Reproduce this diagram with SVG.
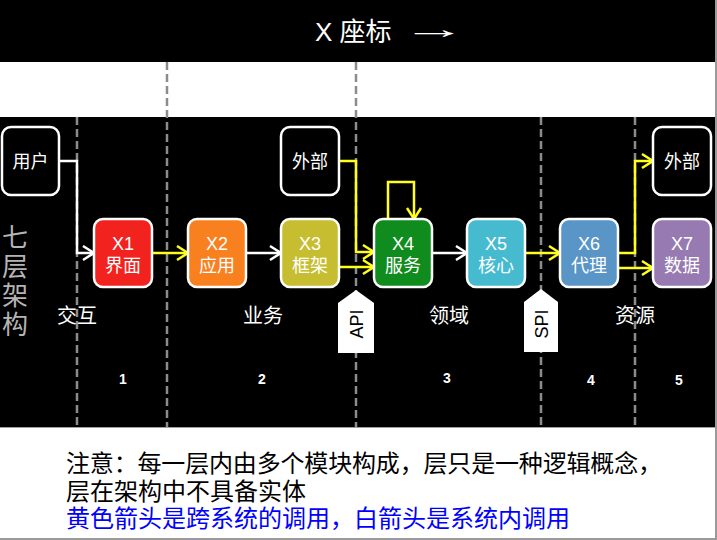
<svg xmlns="http://www.w3.org/2000/svg" width="717" height="540" viewBox="0 0 717 540">
<defs>
<style>
text{font-family:"Liberation Sans","Noto Sans CJK SC",sans-serif;}
.box{stroke:#ffffff;stroke-width:2.5;}
.nt{fill:#ffffff;font-size:18px;text-anchor:middle;}
.lay{fill:#ffffff;font-size:20px;text-anchor:middle;}
.num{fill:#ffffff;font-size:14px;font-weight:bold;text-anchor:middle;}
.dash{stroke:#8c8c8c;stroke-width:2.5;stroke-dasharray:8 4;fill:none;}
.cw{stroke:#ffffff;stroke-width:2.5;fill:none;marker-end:url(#aw);}
.cy{stroke:#ffff1a;stroke-width:2.5;fill:none;marker-end:url(#ay);}
.tag{fill:#ffffff;}
.tagt{fill:#000000;font-size:18px;text-anchor:middle;}
.note{font-size:24px;fill:#000000;}
</style>
<marker id="aw" viewBox="-2 -2 16 18" markerUnits="userSpaceOnUse" markerWidth="16" markerHeight="18" refX="11" refY="7" orient="auto" overflow="visible">
<path d="M0,0 L11,7 L0,14" fill="none" stroke="#ffffff" stroke-width="2.5"/>
</marker>
<marker id="ay" viewBox="-2 -2 16 18" markerUnits="userSpaceOnUse" markerWidth="16" markerHeight="18" refX="11" refY="7" orient="auto" overflow="visible">
<path d="M0,0 L11,7 L0,14" fill="none" stroke="#ffff1a" stroke-width="2.5"/>
</marker>
</defs>

<rect x="0" y="0" width="717" height="540" fill="#ffffff"/>
<rect x="0" y="0" width="717" height="62" fill="#000000"/>
<rect x="0" y="117" width="717" height="310" fill="#000000"/>
<line x1="0" y1="427.5" x2="717" y2="427.5" stroke="#a0a0a0" stroke-width="1"/>
<line x1="716" y1="0" x2="716" y2="540" stroke="#9a9a9a" stroke-width="2"/>
<line x1="0" y1="539" x2="717" y2="539" stroke="#9a9a9a" stroke-width="2"/>

<g id="title">
<text x="315" y="41" fill="#ffffff" font-size="26">X 座标</text>
<text x="0" y="0" fill="#ffffff" font-size="26" transform="translate(402,38) scale(2.5,1)">→</text>
</g>

<g id="dividers">
<line class="dash" x1="77" y1="117" x2="77" y2="427"/>
<line class="dash" x1="167" y1="62" x2="167" y2="427"/>
<line class="dash" x1="356" y1="62" x2="356" y2="427"/>
<line class="dash" x1="541" y1="117" x2="541" y2="427"/>
<line class="dash" x1="635" y1="117" x2="635" y2="427"/>
</g>

<g id="side-label">
<text x="15" y="247" fill="#b4b4b4" font-size="26" text-anchor="middle">七</text>
<text x="15" y="276" fill="#b4b4b4" font-size="26" text-anchor="middle">层</text>
<text x="15" y="305" fill="#b4b4b4" font-size="26" text-anchor="middle">架</text>
<text x="15" y="334" fill="#b4b4b4" font-size="26" text-anchor="middle">构</text>
</g>

<g id="connectors">
<path class="cw" d="M59,161 H77 V253 H94"/>
<path class="cy" d="M152,253 H188"/>
<path class="cw" d="M246,253 H281"/>
<path class="cy" d="M339,161 H356 V252 H374"/>
<path class="cy" d="M339,267 H374"/>
<path class="cy" d="M388,219 V182 H414 V219"/>
<path class="cw" d="M432,253 H467"/>
<path class="cy" d="M525,253 H560"/>
<path class="cy" d="M618,253 H635 V161 H653"/>
<path class="cy" d="M618,268 H653"/>
</g>

<g id="user">
<rect class="box" x="2" y="127" width="57" height="68" rx="9" fill="#000000"/>
<text class="nt" x="30.5" y="168">用户</text>
</g>
<g id="ext1">
<rect class="box" x="281" y="127" width="58" height="68" rx="9" fill="#000000"/>
<text class="nt" x="310" y="168">外部</text>
</g>
<g id="ext2">
<rect class="box" x="653" y="127" width="58" height="68" rx="9" fill="#000000"/>
<text class="nt" x="682" y="168">外部</text>
</g>

<g id="x1">
<rect class="box" x="94" y="219" width="58" height="68" rx="9" fill="#f2221f"/>
<text class="nt" x="123" y="250">X1</text>
<text class="nt" x="123" y="272">界面</text>
</g>
<g id="x2">
<rect class="box" x="188" y="219" width="58" height="68" rx="9" fill="#f9801f"/>
<text class="nt" x="217" y="250">X2</text>
<text class="nt" x="217" y="272">应用</text>
</g>
<g id="x3">
<rect class="box" x="281" y="219" width="58" height="68" rx="9" fill="#c7bd30"/>
<text class="nt" x="310" y="250">X3</text>
<text class="nt" x="310" y="272">框架</text>
</g>
<g id="x4">
<rect class="box" x="374" y="219" width="58" height="68" rx="9" fill="#0f8c1d"/>
<text class="nt" x="403" y="250">X4</text>
<text class="nt" x="403" y="272">服务</text>
</g>
<g id="x5">
<rect class="box" x="467" y="219" width="58" height="68" rx="9" fill="#46bbd0"/>
<text class="nt" x="496" y="250">X5</text>
<text class="nt" x="496" y="272">核心</text>
</g>
<g id="x6">
<rect class="box" x="560" y="219" width="58" height="68" rx="9" fill="#5995c6"/>
<text class="nt" x="589" y="250">X6</text>
<text class="nt" x="589" y="272">代理</text>
</g>
<g id="x7">
<rect class="box" x="653" y="219" width="58" height="68" rx="9" fill="#977ab1"/>
<text class="nt" x="682" y="250">X7</text>
<text class="nt" x="682" y="272">数据</text>
</g>

<g id="api">
<path class="tag" d="M356,290 L374,303 V353 H338 V303 Z"/>
<text class="tagt" transform="translate(363,324) rotate(-90)">API</text>
</g>
<g id="spi">
<path class="tag" d="M541,289 L558,302 V352 H524 V302 Z"/>
<text class="tagt" transform="translate(548,324) rotate(-90)">SPI</text>
</g>

<g id="layers">
<text class="lay" x="77" y="323">交互</text>
<text class="lay" x="263" y="323">业务</text>
<text class="lay" x="449" y="323">领域</text>
<text class="lay" x="635" y="323">资源</text>
</g>

<g id="numbers">
<text class="num" x="123" y="384">1</text>
<text class="num" x="262" y="384">2</text>
<text class="num" x="447" y="383">3</text>
<text class="num" x="591" y="385">4</text>
<text class="num" x="679" y="385">5</text>
</g>

<g id="notes">
<text class="note" x="66" y="472" textLength="596" lengthAdjust="spacing">注意：每一层内由多个模块构成，层只是一种逻辑概念，</text>
<text class="note" x="66" y="500">层在架构中不具备实体</text>
<text class="note" x="66" y="527" fill="#0000ff" style="fill:#0000ff">黄色箭头是跨系统的调用，白箭头是系统内调用</text>
</g>
</svg>
